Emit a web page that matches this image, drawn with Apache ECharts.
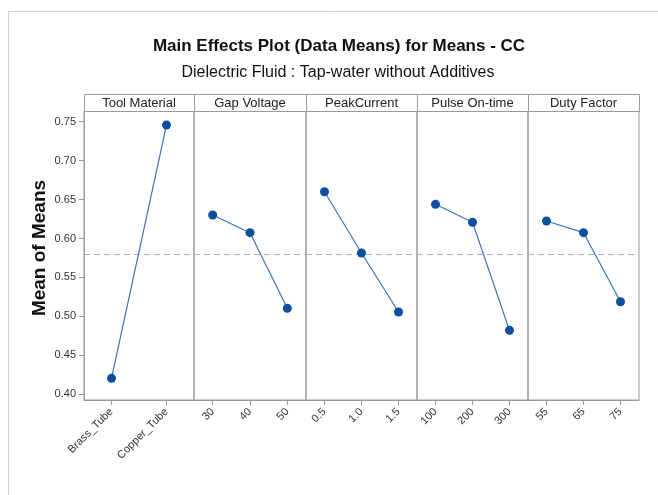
<!DOCTYPE html>
<html>
<head>
<meta charset="utf-8">
<script src="https://cdn.jsdelivr.net/npm/echarts@6/dist/echarts.min.js"></script>
<style>
    html, body { margin: 0; padding: 0; background: #fff; }
    #chart { width: 658px; height: 495px; }
</style>
</head>
<body>
<div id="chart"></div>
<script>
    // factors (panel headers) and their levels
    var factors = ['Tool Material', 'Gap Voltage', 'PeakCurrent', 'Pulse On-time', 'Duty Factor'];
    var toolLevels = ['Brass_Tube', 'Copper_Tube'];
    var gapLevels = ['30', '40', '50'];
    var peakLevels = ['0.5', '1.0', '1.5'];
    var pulseLevels = ['100', '200', '300'];
    var dutyLevels = ['55', '65', '75'];

    // mean of means per level
    var toolMeans = [0.4205, 0.7458];
    var gapMeans = [0.6302, 0.6075, 0.5104];
    var peakMeans = [0.6601, 0.5814, 0.5057];
    var pulseMeans = [0.6439, 0.6208, 0.4821];
    var dutyMeans = [0.6225, 0.6075, 0.5189];

    var grandMean = 0.5815;
    var yTicks = [0.40, 0.45, 0.50, 0.55, 0.60, 0.65, 0.70, 0.75];

    var levels = [toolLevels, gapLevels, peakLevels, pulseLevels, dutyLevels];
    var means = [toolMeans, gapMeans, peakMeans, pulseMeans, dutyMeans];

    var panelLeft = [84, 194, 306, 417, 528];
    var panelWidth = [110, 112, 111, 111, 111];
    var plotTop = 111, plotHeight = 289, headTop = 94;
    var font = '"Liberation Sans", Arial, sans-serif';

    var grids = [], xAxes = [], yAxes = [], series = [], graphics = [];

    // light frame round the figure
    graphics.push({ type: 'polyline', shape: { points: [[8.5, 495], [8.5, 11.5], [658, 11.5]] },
        style: { stroke: '#cccccc', lineWidth: 1, fill: null } });
    graphics.push({ type: 'text', x: 339, y: 46, style: { text: 'Main Effects Plot (Data Means) for Means - CC',
        font: 'bold 17px ' + font, fill: '#111', align: 'center', verticalAlign: 'middle' } });
    graphics.push({ type: 'text', x: 338, y: 73, style: { text: 'Dielectric Fluid : Tap-water without Additives',
        font: '16px ' + font, fill: '#111', align: 'center', verticalAlign: 'middle' } });
    // y axis title
    graphics.push({ type: 'text', x: 40, y: 248, rotation: Math.PI / 2, style: { text: 'Mean of Means',
        font: 'bold 19px ' + font, fill: '#111', align: 'center', verticalAlign: 'middle' } });

    for (var i = 0; i < factors.length; i++) {
        grids.push({ left: panelLeft[i], top: plotTop, width: panelWidth[i], height: plotHeight,
            show: true, borderColor: '#999', borderWidth: 1, backgroundColor: 'transparent' });
        xAxes.push({
            type: 'category', gridIndex: i, data: levels[i], boundaryGap: true,
            axisLine: { show: true, lineStyle: { color: '#999' } },
            axisTick: { show: true, alignWithLabel: true, length: 5, lineStyle: { color: '#999' } },
            axisLabel: { rotate: 45, margin: 10, fontSize: 11, color: '#333', interval: 0, fontFamily: font },
            splitLine: { show: false }
        });
        yAxes.push({
            type: 'value', gridIndex: i, min: 0.3927, max: 0.7637,
            axisLine: { show: i === 0, lineStyle: { color: '#999' } },
            axisTick: { show: i === 0, length: 5, lineStyle: { color: '#999' }, customValues: yTicks },
            axisLabel: { show: i === 0, fontSize: 11, color: '#333', margin: 8, customValues: yTicks,
                fontFamily: font,
                formatter: function (v) { return v.toFixed(2); } },
            splitLine: { show: false }
        });
        series.push({
            type: 'line', xAxisIndex: i, yAxisIndex: i, data: means[i],
            symbol: 'circle', symbolSize: 9,
            itemStyle: { color: '#0b4f9e' },
            lineStyle: { color: '#3a74ba', width: 1.2 },
            silent: true, animation: false,
            markLine: {
                silent: true, symbol: 'none', label: { show: false },
                lineStyle: { color: '#b0b0b0', type: [6, 4], width: 1.2 },
                data: [{ yAxis: grandMean }]
            },
            z: 5
        });
        // header strip
        graphics.push({ type: 'rect', shape: { x: panelLeft[i] + 0.5, y: headTop + 0.5, width: panelWidth[i], height: plotTop - headTop },
            style: { stroke: '#999', fill: '#fff', lineWidth: 1 } });
        graphics.push({ type: 'text', x: panelLeft[i] + panelWidth[i] / 2, y: (headTop + plotTop) / 2 + 1,
            style: { text: factors[i], font: '13px ' + font, fill: '#222',
                align: 'center', verticalAlign: 'middle' } });
    }

    var chart = echarts.init(document.getElementById('chart'));
    chart.setOption({
        animation: false,
        backgroundColor: '#fff',
        grid: grids,
        xAxis: xAxes,
        yAxis: yAxes,
        series: series,
        graphic: graphics
    });
</script>
</body>
</html>
